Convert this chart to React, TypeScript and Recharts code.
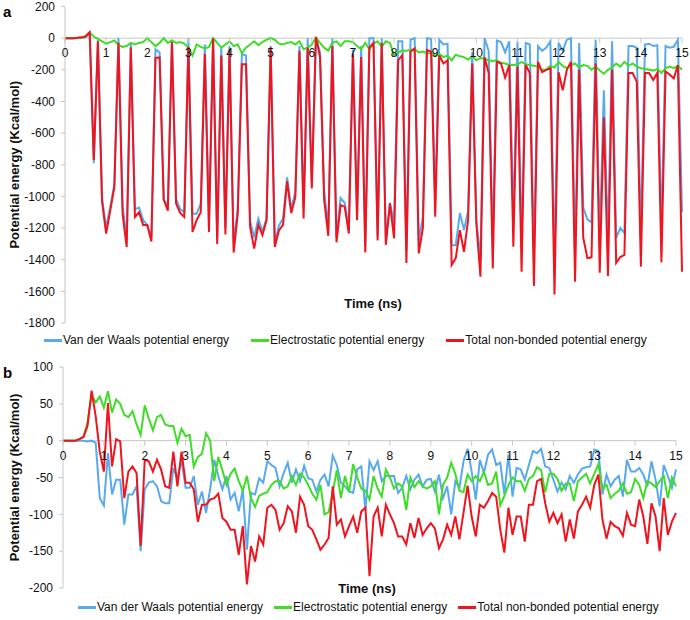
import React from 'react';
import { LineChart, Line, XAxis, YAxis, ReferenceLine, Legend } from 'recharts';

// ---------- Panel a (0.0 .. 15.0 ns, step 0.1) ----------
const aVdw = [
  0, 0, 0, 0, 2, 5, 30,
  -790, -10, -1010, -1200, -1065, -925, 0, -1060, -1270, -30, -1080, -1070, -1150,
  -1180, -1260, -70, -90, -1020, -1060, -10, -1015, -1080, -1100,
  0, -1110, -1110, -1045, -40, -1170, 0, -1270, -50, -1200,
  -50, -1305, -1070, -100, -110, -1155, -1260, -1140, -1220, -1140,
  -50, -1300, -1185, -1140, -880, -1080, -970, -50, -1070, 0,
  -910, 5, -90, -960, -1210, 0, -1260, -1010, -1040, -1210,
  -70, -1100, -50, -1320, 0, 0, -1250, 0, -1280, -1040,
  -1170, -20, -20, -1340, -10, 0, -1280, -1130, 0, -5,
  -1030, -10, -40, -35, -1308, -1308, -1105, -1213, -1090, -90,
  -1150, -1400, 0, -80, -1310, -15, -25, -90, -20, -1150,
  -20, -1320, -30, -40, -1390, -50, -80, -60, -20, -1430,
  -30, -80, -10, 0, -1380, -30, -1072, -1145, -1165, -10,
  -1280, -330, -1300, -20, -1263, -1200, -1232, -50, -50, -60,
  -1250, -40, -35, -50, -45, -1220, -50, -60, -55, -10,
  -1100,
];
const aElec = [
  0, 0, 0, 2, 3, 8, 35,
  10, -5, -20, -35, -25, -15, -45, -55, -50, -30, -40, -30, -25,
  0, -25, -50, -30, 0, -30, -15, -30, -25, -35,
  -60, -110, -40, -55, -65, -55, 0, -30, -60, -40,
  -20, -50, -40, -95, -60, -40, -20, -45, -25, -10,
  0, -10, -35, -40, -30, -25, -40, -20, -70, -60,
  -40, 3, -30, -60, -80, -30, -20, -50, -20, -20,
  -25, -50, -70, -30, -70, -35, -20, -55, -20, -30,
  -110, -90, -80, -80, -75, -70, -90, -85, -95, -95,
  -110, -100, -120, -110, -140, -105, -115, -120, -135, -115,
  -140, -125, -130, -140, -145, -140, -155, -160, -170, -170,
  -165, -150, -165, -170, -175, -180, -200, -200, -175, -185,
  -150, -175, -190, -170, -160, -185, -170, -175, -200, -180,
  -205, -225, -200, -185, -160, -180, -150, -175, -160, -180,
  -190, -195, -200, -205, -195, -220, -190, -180, -190, -175,
  -200,
];
const aTotal = [
  0, 0, 0, 2, 5, 12, 38,
  -770, -20, -1030, -1235, -1090, -940, -30, -1110, -1320, -60, -1130, -1100, -1180,
  -1180, -1285, -125, -122, -1020, -1090, -25, -1045, -1105, -1130,
  -55, -1225, -1150, -1100, -100, -1225, 0, -1300, -110, -1240,
  -70, -1355, -1110, -165, -165, -1195, -1330, -1180, -1245, -1150,
  -60, -1320, -1215, -1180, -905, -1105, -1005, -80, -1140, -60,
  -950, 8, -120, -1020, -1250, -50, -1290, -1055, -1065, -1235,
  -100, -1150, -120, -1355, -60, -30, -1278, -30, -1306, -1045,
  -1265, -140, -108, -1420, -86, -65, -1360, -1200, -75, -86,
  -1128, -110, -160, -140, -1434, -1390, -1213, -1350, -1150, -160,
  -1170, -1508, -120, -220, -1455, -150, -160, -250, -170, -1318,
  -180, -1476, -170, -220, -1566, -150, -215, -200, -190, -1620,
  -215, -330, -200, -150, -1539, -200, -1263, -1390, -1385, -160,
  -1482, -500, -1503, -200, -1420, -1383, -1370, -220, -220, -275,
  -1444, -220, -220, -265, -220, -1416, -210, -230, -255, -170,
  -1476,
];

// ---------- Panel b ----------
const bVdw = [
  0, 0, 0, 0, 0, 0, -1,
  0, -3, -78, -88, -17, -73, -53, -53, -114, -73, -73, -62, -150,
  -66, -57, -55, -62, -82, -85, -85, -37, -51, -26,
  -64, -64, -48, -87, -69, -98, -66, -26, -48, -66,
  -48, -80, -71, -96, -66, -148, -71, -73, -51, -57,
  -28, -33, -37, -62, -44, -30, -57, -39, -55, -34,
  -51, -53, -69, -53, -46, -62, -20, -33, -57, -62,
  -69, -71, -39, -35, -94, -28, -40, -28, -55, -48,
  -48, -48, -71, -64, -48, -66, -53, -46, -62, -53,
  -52, -69, -46, -78, -62, -100, -55, -64, -28, -11,
  -42, -80, -26, -44, -19, -12, -33, -30, -73, -19,
  -76, -37, -39, -53, -33, -14, -17, -11, -35, -37,
  -53, -69, -57, -66, -48, -57, -46, -38, -36, -35,
  -12, -14, -73, -46, -62, -53, -48, -76, -26, -42,
  -42, -37, -46, -62, -28, -53, -89, -33, -48, -64,
  -39,
];
const bElec = [
  0, 0, 0, 0, 2, 5, 25,
  62, 52, 60, 45, 67, 38, 56, 50, 35, 32, 40, 22, 8,
  48, 30, 14, 32, 35, 22, 20, 20, -3, 16,
  6, 8, -35, -22, -18, 10, 0, -55, -22, -40,
  -60, -45, -38, -55, -68, -48, -78, -90, -75, -72,
  -70, -60, -55, -55, -65, -62, -48, -60, -45, -50,
  -60, -72, -80, -60, -100, -97, -70, -40, -78, -48,
  -70, -32, -50, -65, -68, -80, -48, -65, -76, -39,
  -50, -65, -58, -62, -94, -50, -63, -55, -62, -65,
  -62, -55, -100, -60, -50, -30, -45, -68, -70, -46,
  -55, -48, -55, -42, -60, -58, -42, -88, -75, -60,
  -50, -55, -55, -68, -52, -48, -36, -40, -70, -45,
  -45, -52, -68, -58, -58, -82, -55, -50, -45, -58,
  -45, -32, -65, -60, -78, -72, -68, -58, -72, -70,
  -52, -60, -78, -55, -58, -63, -55, -48, -78, -50,
  -62,
];
const bTotal = [
  0, 0, 0, 0, 2, 5, 20,
  68, 33, -15, -42, 51, -35, 2, -1, -78, -42, -35, -44, -143,
  -26, -28, -42, -26, -39, -62, -64, -15, -62, -15,
  -57, -57, -66, -110, -87, -87, -80, -78, -72, -105,
  -110, -121, -121, -155, -116, -195, -143, -164, -130, -141,
  -91, -87, -94, -121, -112, -89, -96, -125, -76, -87,
  -116, -121, -134, -148, -141, -132, -62, -114, -107, -130,
  -116, -103, -125, -96, -91, -184, -103, -91, -130, -87,
  -100, -112, -130, -130, -141, -112, -132, -105, -128, -119,
  -112, -119, -146, -134, -114, -128, -103, -134, -98, -61,
  -103, -130, -87, -91, -82, -71, -76, -121, -152, -91,
  -128, -103, -103, -137, -87, -87, -55, -52, -85, -110,
  -98, -112, -100, -137, -107, -133, -96, -87, -76, -91,
  -60, -46, -107, -133, -110, -116, -119, -129, -98, -114,
  -116, -80, -103, -140, -85, -103, -150, -78, -128, -110,
  -98,
];

const xTicks = [0, 1, 2, 3, 4, 5, 6, 7, 8, 9, 10, 11, 12, 13, 14, 15];
const aYTicks = [200, 0, -200, -400, -600, -800, -1000, -1200, -1400, -1600, -1800];
const bYTicks = [100, 50, 0, -50, -100, -150, -200];
const names = {
  vdw: 'Van der Waals potential energy',
  elec: 'Electrostatic potential energy',
  total: 'Total non-bonded potential energy',
};
const yTitle = 'Potential energy (Kcal/mol)';
const xTitle = 'Time (ns)';

const COLORS = { vdw: '#58a9ee', elec: '#3fdc28', total: '#f0141e' };
const LEGEND_ITEMS = [
  { name: names.vdw, color: COLORS.vdw },
  { name: names.elec, color: COLORS.elec },
  { name: names.total, color: COLORS.total },
];
const AXIS = '#c6c6c6';
const FONT = '"Liberation Sans", Arial, sans-serif';

function buildRows(vdw: number[], elec: number[], total: number[]) {
  return vdw.map((v, i) => ({ t: i / 10, vdw: v, elec: elec[i], total: total[i] }));
}
const aRows = buildRows(aVdw, aElec, aTotal);
const bRows = buildRows(bVdw, bElec, bTotal);

const makeTick = (zeroY: number) => (props: any) => {
  const { x, payload } = props;
  return (
    <g>
      <line x1={x} x2={x} y1={zeroY} y2={zeroY + 5} stroke={AXIS} strokeWidth={1} />
      <text x={x} y={zeroY + 19} textAnchor="middle" fontSize={12} fontFamily={FONT} fill="#111">
        {payload.value}
      </text>
    </g>
  );
};

const makeLegend = (gap: number) => () => (
  <div style={{ display: 'flex', alignItems: 'center', whiteSpace: 'nowrap', fontFamily: FONT, fontSize: 12, color: '#111' }}>
    {LEGEND_ITEMS.map((p, i) => (
      <div key={i} style={{ display: 'flex', alignItems: 'center', marginRight: i < LEGEND_ITEMS.length - 1 ? gap : 0 }}>
        <span style={{ display: 'inline-block', width: 18, height: 3, background: p.color, marginRight: 1 }} />
        <span>{p.name}</span>
      </div>
    ))}
  </div>
);

const yTitleLabel = (cx: number, cy: number) => () => (
  <text
    x={cx}
    y={cy}
    transform={`rotate(-90 ${cx} ${cy})`}
    textAnchor="middle"
    dominantBaseline="central"
    fontSize={13}
    fontWeight="bold"
    fontFamily={FONT}
    fill="#111"
  >
    {yTitle}
  </text>
);

const xTitleLabel = (cx: number, cy: number) => () => (
  <text x={cx} y={cy} textAnchor="middle" dominantBaseline="central" fontSize={13} fontWeight="bold" fontFamily={FONT} fill="#111">
    {xTitle}
  </text>
);

export default function App() {
  // panel a geometry
  const aTop = 6.5;
  const aPlotH = 316.5;
  const aZero = aTop + aPlotH * (200 / 2000);
  // panel b geometry
  const bTop = 12;
  const bPlotH = 221;
  const bZero = bTop + bPlotH * (100 / 300);

  const tickStyle = { fontSize: 12, fontFamily: FONT, fill: '#111' };

  return (
    <div style={{ position: 'absolute', left: 0, top: 0, width: 690, height: 620, background: '#fff', fontFamily: FONT }}>
      <div style={{ position: 'absolute', left: 3, top: 3, fontSize: 15, fontWeight: 'bold' }}>a</div>
      <div style={{ position: 'absolute', left: 3, top: 364, fontSize: 15, fontWeight: 'bold' }}>b</div>

      <div style={{ position: 'absolute', left: 0, top: 0 }}>
        <LineChart width={690} height={352} data={aRows} margin={{ top: aTop, right: 8, bottom: 0, left: 0 }}>
          <XAxis
            dataKey="t"
            type="number"
            domain={[0, 15]}
            ticks={xTicks}
            interval={0}
            axisLine={false}
            tickLine={false}
            height={352 - aTop - aPlotH}
            tick={makeTick(aZero)}
            label={xTitleLabel(373, 303)}
          />
          <YAxis
            type="number"
            domain={[-1800, 200]}
            ticks={aYTicks}
            interval={0}
            width={65}
            stroke={AXIS}
            tickSize={4}
            tickMargin={6}
            tick={tickStyle}
            label={yTitleLabel(14, aTop + aPlotH / 2)}
          />
          <ReferenceLine y={0} stroke={AXIS} strokeWidth={1} ifOverflow="visible" />
          <Line type="linear" dataKey="vdw" name={names.vdw} stroke={COLORS.vdw} strokeWidth={2} dot={false} isAnimationActive={false} />
          <Line type="linear" dataKey="elec" name={names.elec} stroke={COLORS.elec} strokeWidth={2} dot={false} isAnimationActive={false} />
          <Line type="linear" dataKey="total" name={names.total} stroke={COLORS.total} strokeWidth={2} dot={false} isAnimationActive={false} />
          <Legend
            verticalAlign="middle"
            layout="horizontal"
            wrapperStyle={{ top: 333, left: 44, width: 'auto', height: 'auto' }}
            content={makeLegend(22)}
          />
        </LineChart>
      </div>

      <div style={{ position: 'absolute', left: 0, top: 355 }}>
        <LineChart width={690} height={265} data={bRows} margin={{ top: bTop, right: 14, bottom: 0, left: 0 }}>
          <XAxis
            dataKey="t"
            type="number"
            domain={[0, 15]}
            ticks={xTicks}
            interval={0}
            axisLine={false}
            tickLine={false}
            height={265 - bTop - bPlotH}
            tick={makeTick(bZero)}
            label={xTitleLabel(367, 233)}
          />
          <YAxis
            type="number"
            domain={[-200, 100]}
            ticks={bYTicks}
            interval={0}
            width={63}
            stroke={AXIS}
            tickSize={4}
            tickMargin={6}
            tick={tickStyle}
            label={yTitleLabel(14, bTop + bPlotH / 2)}
          />
          <ReferenceLine y={0} stroke={AXIS} strokeWidth={1} ifOverflow="visible" />
          <Line type="linear" dataKey="vdw" name={names.vdw} stroke={COLORS.vdw} strokeWidth={2} dot={false} isAnimationActive={false} />
          <Line type="linear" dataKey="elec" name={names.elec} stroke={COLORS.elec} strokeWidth={2} dot={false} isAnimationActive={false} />
          <Line type="linear" dataKey="total" name={names.total} stroke={COLORS.total} strokeWidth={2} dot={false} isAnimationActive={false} />
          <Legend
            verticalAlign="middle"
            layout="horizontal"
            wrapperStyle={{ top: 245, left: 78, width: 'auto', height: 'auto' }}
            content={makeLegend(11)}
          />
        </LineChart>
      </div>
    </div>
  );
}
